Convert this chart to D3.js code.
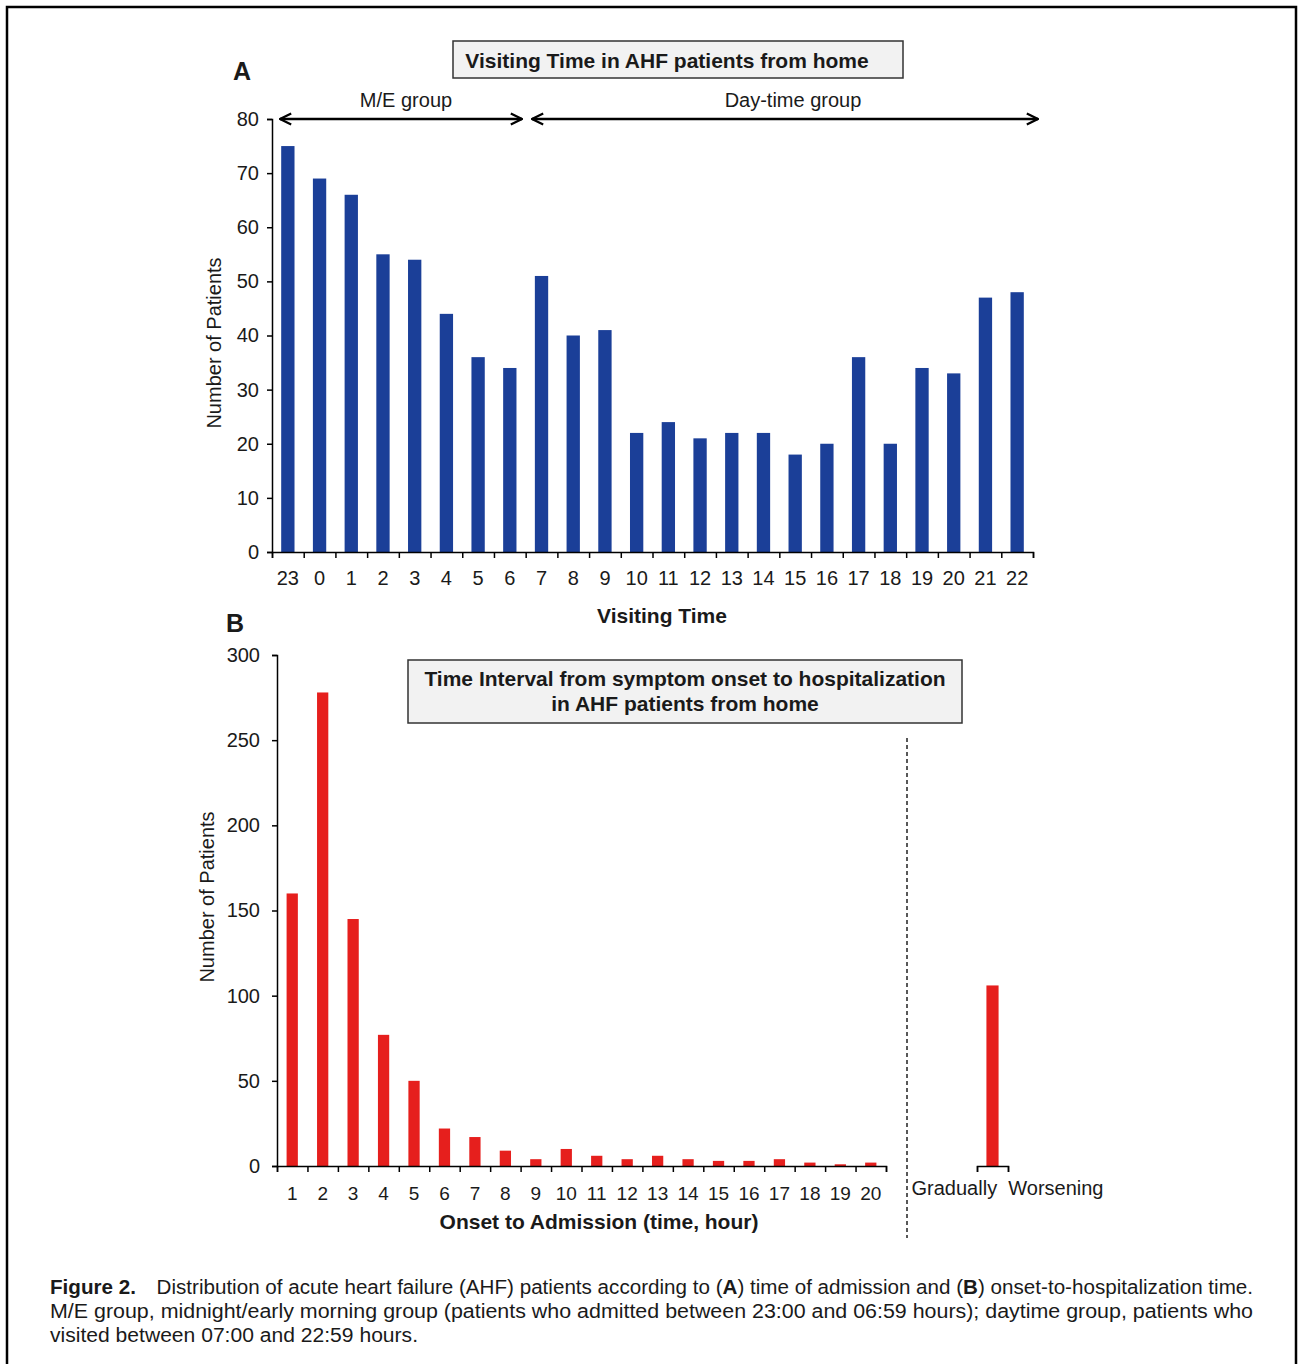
<!DOCTYPE html>
<html>
<head>
<meta charset="utf-8">
<script src="https://cdn.jsdelivr.net/npm/d3@7"></script>
<style>
  html, body { margin: 0; padding: 0; background: #fff; }
  svg { display: block; }
  text { font-family: "Liberation Sans", Arial, sans-serif; fill: #1a1a1a; }
</style>
</head>
<body>
<svg id="fig" width="1298" height="1364"></svg>
<script>
// Panel A: admissions by hour of visit
const visitHours = ["23","0","1","2","3","4","5","6","7","8","9","10","11","12","13","14","15","16","17","18","19","20","21","22"];
const visitCounts = [75,69,66,55,54,44,36,34,51,40,41,22,24,21,22,22,18,20,36,20,34,33,47,48];
const visitTicks = [0,10,20,30,40,50,60,70,80];

// Panel B: onset-to-admission interval
const onsetHours = ["1","2","3","4","5","6","7","8","9","10","11","12","13","14","15","16","17","18","19","20"];
const onsetCounts = [160,278,145,77,50,22,17,9,4,10,6,4,6,4,3,3,4,2,1,2];
const gradualLabel = ["Gradually  Worsening"];
const gradualCount = [106];
const onsetTicks = [0,50,100,150,200,250,300];

const blue = "#1b3f98";
const red = "#e61f1d";

const svg = d3.select("#fig");

// page frame
svg.append("path")
  .attr("d", "M7,1364 V7 H1296 V1364")
  .attr("fill", "none").attr("stroke", "#000").attr("stroke-width", 2.5);

// ---------- Panel A ----------
const A = { x0: 272, x1: 1033, y0: 552, y1: 119 };
const xA = d3.scaleBand().domain(visitHours).range([A.x0, A.x1]).paddingInner(0.58).paddingOuter(0.29);
const yA = d3.scaleLinear().domain([0, 80]).range([A.y0, A.y1]);

const gA = svg.append("g");
gA.selectAll("rect.bar").data(visitCounts).join("rect")
  .attr("class", "bar")
  .attr("x", (d, i) => xA(visitHours[i]))
  .attr("width", xA.bandwidth())
  .attr("y", d => yA(d))
  .attr("height", d => yA(0) - yA(d))
  .attr("fill", blue);

// y axis
const yAxA = gA.append("g").attr("transform", `translate(${A.x0},0)`)
  .call(d3.axisLeft(yA).tickValues(visitTicks).tickSize(5).tickPadding(8));
// x axis: baseline with ticks at category boundaries
const bA = d3.scaleLinear().domain([0, visitHours.length]).range([A.x0, A.x1]);
const xAxA = gA.append("g").attr("transform", `translate(0,${A.y0})`)
  .call(d3.axisBottom(bA).tickValues(d3.range(visitHours.length + 1)).tickSize(6).tickFormat(""));
const xLabA = gA.append("g").attr("transform", `translate(0,${A.y0})`)
  .call(d3.axisBottom(xA).tickSize(0).tickPadding(19));
xLabA.select(".domain").remove();

[yAxA, xAxA, xLabA].forEach(g => {
  g.selectAll(".domain").attr("stroke", "#000").attr("stroke-width", 1.5);
  g.selectAll(".tick line").attr("stroke", "#000").attr("stroke-width", 1.5);
  g.selectAll("text").attr("font-size", 20).attr("fill", "#1a1a1a")
    .attr("font-family", "'Liberation Sans', Arial, sans-serif");
});

svg.append("text").attr("x", 242).attr("y", 80).attr("text-anchor", "middle")
  .attr("font-size", 25).attr("font-weight", "bold").text("A");

svg.append("text").attr("transform", "translate(221,343) rotate(-90)")
  .attr("text-anchor", "middle").attr("font-size", 20).text("Number of Patients");

svg.append("text").attr("x", 662).attr("y", 623).attr("text-anchor", "middle")
  .attr("font-size", 21).attr("font-weight", "bold").text("Visiting Time");

// title box A
svg.append("rect").attr("x", 453).attr("y", 41).attr("width", 450).attr("height", 37)
  .attr("fill", "#f2f2f2").attr("stroke", "#333").attr("stroke-width", 1.5);
svg.append("text").attr("x", 667).attr("y", 68).attr("text-anchor", "middle")
  .attr("font-size", 21).attr("font-weight", "bold").text("Visiting Time in AHF patients from home");

// group arrows
svg.append("defs").append("marker").attr("id", "ah")
  .attr("viewBox", "0 0 10 10").attr("refX", 9).attr("refY", 5)
  .attr("markerWidth", 14).attr("markerHeight", 14).attr("markerUnits", "userSpaceOnUse")
  .attr("orient", "auto-start-reverse")
  .append("path").attr("d", "M1,1 L9,5 L1,9").attr("fill", "none").attr("stroke", "#000").attr("stroke-width", 1.6);

const groups = [
  { name: "M/E group", from: 280, to: 522, shift: 5 },
  { name: "Day-time group", from: 532, to: 1038, shift: 8 }
];
groups.forEach(g => {
  svg.append("line").attr("x1", g.from).attr("x2", g.to).attr("y1", 119).attr("y2", 119)
    .attr("stroke", "#000").attr("stroke-width", 2.5)
    .attr("marker-start", "url(#ah)").attr("marker-end", "url(#ah)");
  svg.append("text").attr("x", (g.from + g.to) / 2 + g.shift).attr("y", 107)
    .attr("text-anchor", "middle").attr("font-size", 20).text(g.name);
});

// ---------- Panel B ----------
const B = { x0: 277, x1: 886, y0: 1166, y1: 655 };
const xB = d3.scaleBand().domain(onsetHours).range([B.x0, B.x1]).paddingInner(0.63).paddingOuter(0.315);
const yB = d3.scaleLinear().domain([0, 300]).range([B.y0, B.y1]);

const gB = svg.append("g");
gB.selectAll("rect.bar").data(onsetCounts).join("rect")
  .attr("class", "bar")
  .attr("x", (d, i) => xB(onsetHours[i]))
  .attr("width", xB.bandwidth())
  .attr("y", d => yB(d))
  .attr("height", d => yB(0) - yB(d))
  .attr("fill", red);

const yAxB = gB.append("g").attr("transform", `translate(${B.x0},0)`)
  .call(d3.axisLeft(yB).tickValues(onsetTicks).tickSize(5).tickPadding(12));
const bB = d3.scaleLinear().domain([0, onsetHours.length]).range([B.x0, B.x1]);
const xAxB = gB.append("g").attr("transform", `translate(0,${B.y0})`)
  .call(d3.axisBottom(bB).tickValues(d3.range(onsetHours.length + 1)).tickSize(6).tickFormat(""));
const xLabB = gB.append("g").attr("transform", `translate(0,${B.y0})`)
  .call(d3.axisBottom(xB).tickSize(0).tickPadding(21));
xLabB.select(".domain").remove();

// separate category: gradual worsening
const xG = d3.scaleBand().domain(gradualLabel).range([977, 1008]).paddingInner(0.6).paddingOuter(0.31);
gB.selectAll("rect.gbar").data(gradualCount).join("rect")
  .attr("class", "gbar")
  .attr("x", (d, i) => xG(gradualLabel[i]))
  .attr("width", xG.bandwidth())
  .attr("y", d => yB(d))
  .attr("height", d => yB(0) - yB(d))
  .attr("fill", red);
const xAxG = gB.append("g").attr("transform", `translate(0,${B.y0})`)
  .call(d3.axisBottom(d3.scaleLinear().domain([0, 1]).range([977, 1008])).tickValues([0, 1]).tickSize(6).tickFormat(""));
const xLabG = gB.append("g").attr("transform", `translate(15,${B.y0})`)
  .call(d3.axisBottom(xG).tickSize(0).tickPadding(15));
xLabG.select(".domain").remove();
xLabG.selectAll("text").attr("xml:space", "preserve").style("white-space", "pre");

[yAxB, xAxB, xLabB, xAxG, xLabG].forEach(g => {
  g.selectAll(".domain").attr("stroke", "#000").attr("stroke-width", 1.5);
  g.selectAll(".tick line").attr("stroke", "#000").attr("stroke-width", 1.5);
  g.selectAll("text").attr("font-size", 19).attr("fill", "#1a1a1a")
    .attr("font-family", "'Liberation Sans', Arial, sans-serif");
});
yAxB.selectAll("text").attr("font-size", 20);
xLabG.selectAll("text").attr("font-size", 20);

// divider
svg.append("line").attr("x1", 907).attr("x2", 907).attr("y1", 738).attr("y2", 1238)
  .attr("stroke", "#222").attr("stroke-width", 1.5).attr("stroke-dasharray", "4,3");

svg.append("text").attr("x", 235).attr("y", 632).attr("text-anchor", "middle")
  .attr("font-size", 25).attr("font-weight", "bold").text("B");

svg.append("text").attr("transform", "translate(214,897) rotate(-90)")
  .attr("text-anchor", "middle").attr("font-size", 20).text("Number of Patients");

svg.append("text").attr("x", 599).attr("y", 1229).attr("text-anchor", "middle")
  .attr("font-size", 21).attr("font-weight", "bold").text("Onset to Admission (time, hour)");

svg.append("rect").attr("x", 408).attr("y", 660).attr("width", 554).attr("height", 63)
  .attr("fill", "#f2f2f2").attr("stroke", "#333").attr("stroke-width", 1.5);
svg.append("text").attr("x", 685).attr("y", 686).attr("text-anchor", "middle")
  .attr("font-size", 21).attr("font-weight", "bold").text("Time Interval from symptom onset to hospitalization");
svg.append("text").attr("x", 685).attr("y", 711).attr("text-anchor", "middle")
  .attr("font-size", 21).attr("font-weight", "bold").text("in AHF patients from home");

// ---------- caption ----------
const cap = svg.append("g").attr("font-size", 20);
const line1 = cap.append("text").attr("x", 50).attr("y", 1294)
  .attr("textLength", 1203).attr("lengthAdjust", "spacingAndGlyphs");
line1.append("tspan").attr("font-weight", "bold").attr("font-family", "'Liberation Sans Narrow', 'Liberation Sans', sans-serif").text("Figure 2.");
line1.append("tspan").attr("dx", 20).text("Distribution of acute heart failure (AHF) patients according to (");
line1.append("tspan").attr("font-weight", "bold").text("A");
line1.append("tspan").text(") time of admission and (");
line1.append("tspan").attr("font-weight", "bold").text("B");
line1.append("tspan").text(") onset-to-hospitalization time.");
cap.append("text").attr("x", 50).attr("y", 1318)
  .attr("textLength", 1203).attr("lengthAdjust", "spacingAndGlyphs")
  .text("M/E group, midnight/early morning group (patients who admitted between 23:00 and 06:59 hours); daytime group, patients who");
cap.append("text").attr("x", 50).attr("y", 1342)
  .attr("textLength", 368).attr("lengthAdjust", "spacingAndGlyphs")
  .text("visited between 07:00 and 22:59 hours.");
</script>
</body>
</html>
